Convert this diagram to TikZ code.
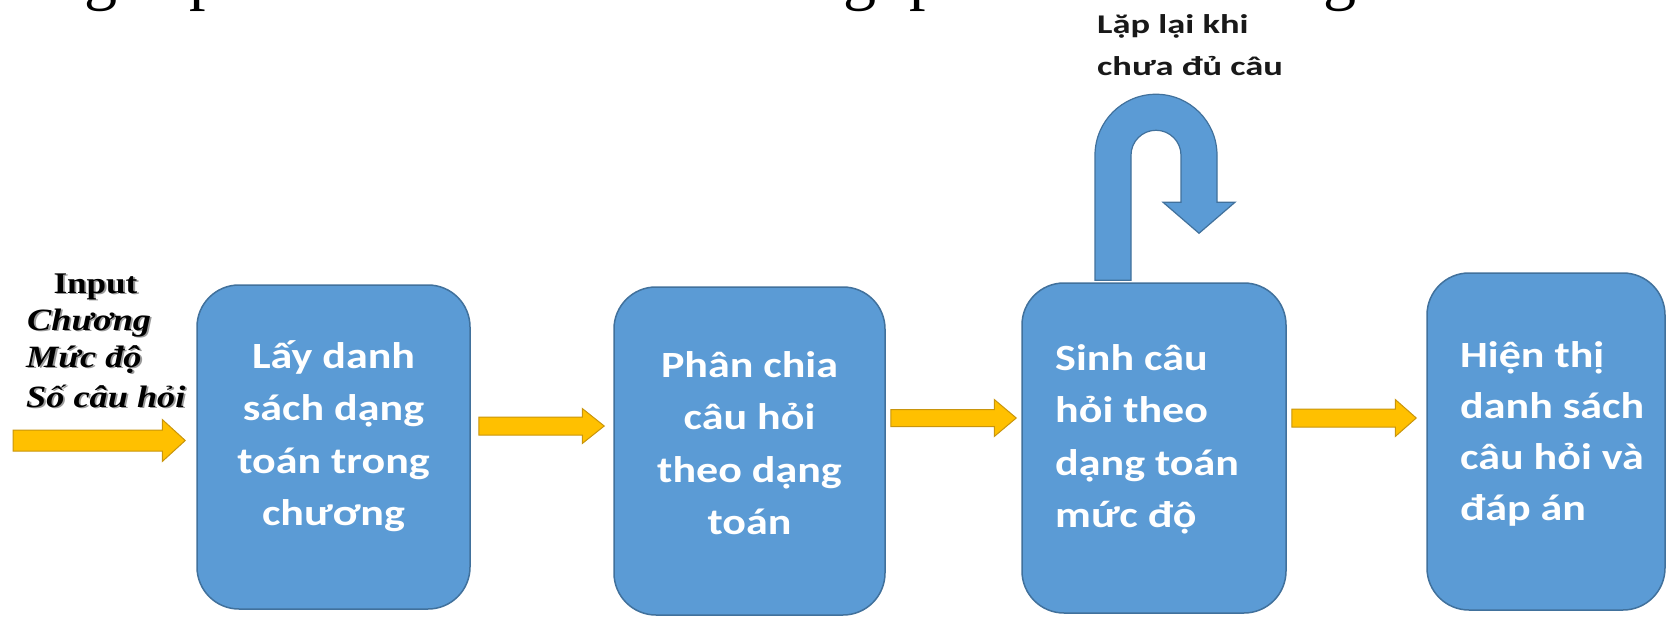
\documentclass[tikz,border=0pt]{standalone}
\usepackage{fontspec}
\setmainfont{Carlito}
\newfontfamily\boxfont{Carlito}[FakeStretch=1.19]
\newfontfamily\lblfont{Carlito}[FakeStretch=1.35]
\newfontfamily\serfont{Liberation Serif}[FakeStretch=1.17]
\newfontfamily\headfont{Liberation Serif}
\usetikzlibrary{calc}
\definecolor{boxblue}{HTML}{5B9BD5}
\definecolor{boxedge}{HTML}{41719C}
\definecolor{arrowyellow}{HTML}{FFC000}
\definecolor{arrowedge}{HTML}{C9950C}
\definecolor{shadowgray}{HTML}{9A9A9A}
\newcommand\clines[2]{\vtop{\baselineskip=#1pt\lineskiplimit=-100pt\halign{\hfil##\hfil\cr#2\crcr}}}
\newcommand\llines[2]{\vtop{\baselineskip=#1pt\lineskiplimit=-100pt\halign{##\hfil\cr#2\crcr}}}
\newcommand\blockarrow[5]{%
  \path[yarrow] let \p1=(#1), \p2=(#2) in
    (\x1,{\y1+#3pt}) -- ({\x2-#5pt},{\y1+#3pt}) -- ({\x2-#5pt},{\y1+#4pt}) -- (\x2,\y1)
    -- ({\x2-#5pt},{\y1-#4pt}) -- ({\x2-#5pt},{\y1-#3pt}) -- (\x1,{\y1-#3pt}) -- cycle;}
\newcommand\shtext[5]{%
  \node[intext, text=shadowgray, anchor=#3] (#1s) at ($(#2)+(1.8,1.8)$) {#4#5};
  \node[intext, anchor=#3] (#1) at (#2) {#4#5};}
\newcommand\itsz{\itshape\fontsize{31}{38}\selectfont}
\tikzset{
  procbox/.style={draw=boxedge, line width=1.5pt, fill=boxblue, rounded corners=42pt, inner sep=0pt},
  btxt/.style={inner sep=0pt, text=white, font=\boxfont\bfseries\fontsize{37}{52.5}\selectfont},
  lbl/.style={inner sep=0pt, text=black!90, font=\lblfont\bfseries\fontsize{27}{35}\selectfont},
  intext/.style={inner sep=0pt, text=black, font=\serfont\bfseries\fontsize{30}{38}\selectfont},
  yarrow/.style={fill=arrowyellow, draw=arrowedge, line width=1pt, line join=miter},
  uarrow/.style={fill=boxblue, draw=boxedge, line width=1.2pt},
  headfrag/.style={inner sep=0pt, text=black, font=\headfont\fontsize{66}{70}\selectfont}
}
\begin{document}
\begin{tikzpicture}[x=1pt, y=-1pt]
\useasboundingbox (0,0) rectangle (1668,616);
\fill[white] (0,0) rectangle (1668,616);
% cut-off heading at the top
\begin{scope}
  \clip (0,0) rectangle (1668,616);
  \node[headfrag, anchor=base west] (hg1) at (84,-3) {g};
  \node[headfrag, anchor=base west] (hp1) at (189,-3) {p};
  \node[headfrag, anchor=base west] (hg2) at (843,-3) {g};
  \node[headfrag, anchor=base west] (hp2) at (909,-3) {p};
  \node[headfrag, anchor=base west] (hg3) at (1323,-3) {g};
\end{scope}
% process boxes
\node[procbox, minimum width=273pt, minimum height=324pt] (b1) at (333.5,447) {};
\node[procbox, minimum width=271pt, minimum height=328pt] (b2) at (749.5,451) {};
\node[procbox, minimum width=264pt, minimum height=330pt] (b3) at (1154,448) {};
\node[procbox, minimum width=238pt, minimum height=337pt] (b4) at (1546,441.5) {};
% U-turn arrow on top of box 3
\path[uarrow] ([shift={(-59,-2)}]b3.north) -- ++(0,-125)
  arc[start angle=180, end angle=0, radius=61pt] -- ++(0,47) -- ++(18,0)
  -- ++(-36,31) -- ++(-36,-31) -- ++(18,0) -- ++(0,-47)
  arc[start angle=0, end angle=180, radius=25pt] -- ++(0,125) -- cycle;
\node[lbl, anchor=base west] (loop) at (1097,33) {\llines{42}{Lặp lại khi\cr chưa đủ câu}};
% box texts
\node[btxt, anchor=base] (t1) at (333.5,368) {\clines{52.5}{Lấy danh\cr sách dạng\cr toán trong\cr chương}};
\node[btxt, anchor=base] (t2) at (749.5,377) {\clines{52.5}{Phân chia\cr câu hỏi\cr theo dạng\cr toán}};
\node[btxt, anchor=base west] (t3) at (1055,370) {\llines{52.5}{Sinh câu\cr hỏi theo\cr dạng toán\cr mức độ}};
\node[btxt, anchor=base west] (t4) at (1460,367) {\llines{51}{Hiện thị\cr danh sách\cr câu hỏi và\cr đáp án}};
% input text
\shtext{in1}{95.5,293}{base}{}{Input}
\shtext{in2}{27,330}{base west}{\itsz}{Chương}
\shtext{in3}{26,367}{base west}{\itsz}{Mức độ}
\shtext{in4}{26,407}{base west}{\itsz}{Số câu hỏi}
% yellow block arrows
\coordinate (inS) at (13,440.5);
\blockarrow{inS}{$(b1.west)+(-11,0)$}{10.5}{21}{23}
\blockarrow{$(b1.east)+(8,-21)$}{$(b2.west)+(-9,0)$}{9}{17.5}{22}
\blockarrow{$(b2.east)+(5,-33)$}{$(b3.west)+(-5,0)$}{8.5}{18.5}{22}
\blockarrow{$(b3.east)+(5,-30)$}{$(b4.west)+(-10,0)$}{9}{18.5}{21}
\end{tikzpicture}
\end{document}
